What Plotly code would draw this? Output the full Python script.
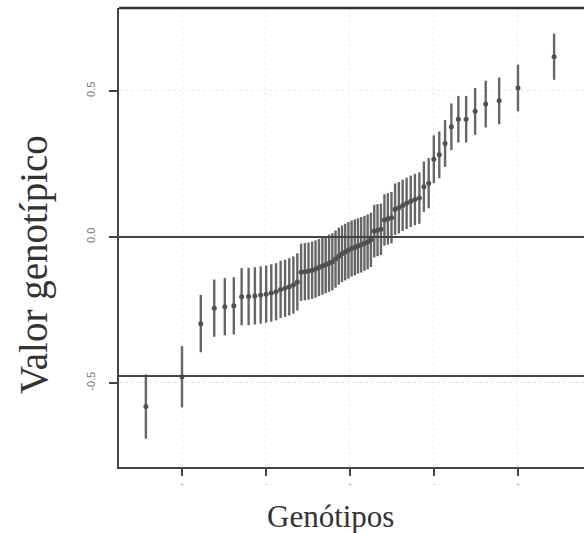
import plotly.graph_objects as go

# Theoretical normal quantiles (x), genotypic values (y), and interval half-widths
quantis = [-2.43, -2.00, -1.776, -1.616, -1.490, -1.383, -1.290, -1.207, -1.132, -1.063,
           -0.998, -0.937, -0.880, -0.826, -0.773, -0.723, -0.674, -0.627, -0.582, -0.537,
           -0.494, -0.451, -0.410, -0.369, -0.328, -0.289, -0.249, -0.210, -0.172, -0.133,
           -0.095, -0.057, -0.019, 0.019, 0.057, 0.095, 0.133, 0.172, 0.210, 0.249,
           0.289, 0.328, 0.369, 0.410, 0.451, 0.494, 0.537, 0.582, 0.627, 0.674,
           0.723, 0.773, 0.826, 0.880, 0.937, 0.998, 1.063, 1.132, 1.207, 1.290,
           1.383, 1.490, 1.616, 1.776, 2.00, 2.43]

valores = [-0.581, -0.479, -0.297, -0.244, -0.239, -0.236, -0.205, -0.204, -0.202, -0.199,
           -0.196, -0.192, -0.188, -0.180, -0.176, -0.171, -0.165, -0.154, -0.121, -0.119,
           -0.117, -0.114, -0.110, -0.105, -0.100, -0.095, -0.090, -0.085, -0.076, -0.066,
           -0.058, -0.052, -0.046, -0.040, -0.036, -0.031, -0.027, -0.022, -0.017, -0.010,
           0.020, 0.023, 0.026, 0.058, 0.062, 0.066, 0.095, 0.100, 0.108, 0.115,
           0.122, 0.128, 0.133, 0.172, 0.184, 0.266, 0.281, 0.320, 0.377, 0.403,
           0.403, 0.430, 0.455, 0.466, 0.510, 0.617]

erros = [0.110, 0.105, 0.098, 0.098, 0.098, 0.098, 0.098, 0.098, 0.098, 0.098,
         0.098, 0.098, 0.098, 0.098, 0.098, 0.098, 0.098, 0.098, 0.098, 0.098,
         0.098, 0.098, 0.098, 0.098, 0.098, 0.098, 0.098, 0.098, 0.098, 0.098,
         0.097, 0.097, 0.097, 0.096, 0.096, 0.095, 0.095, 0.094, 0.094, 0.093,
         0.090, 0.089, 0.088, 0.088, 0.088, 0.088, 0.088, 0.088, 0.088, 0.088,
         0.088, 0.088, 0.088, 0.086, 0.086, 0.082, 0.080, 0.080, 0.080, 0.080,
         0.080, 0.080, 0.080, 0.080, 0.080, 0.079]

x_ticks = [-2, -1, 0, 1, 2]
x_ticklabels = ["-", "·", "-", "·", "-"]
y_ticks = [-0.5, 0.0, 0.5]
y_ticklabels = ["-0.5", "0.0", "0.5"]
ref_lines = [0.0, -0.476]

fig = go.Figure()
fig.add_trace(go.Scatter(
    x=quantis, y=valores, mode="markers",
    marker=dict(size=5, color="#505050", symbol="circle"),
    error_y=dict(type="data", array=erros, visible=True, color="#666666",
                 thickness=2.4, width=0),
    showlegend=False,
))

for v in ref_lines:
    fig.add_shape(type="line", xref="paper", x0=0, x1=1, yref="y", y0=v, y1=v,
                  line=dict(color="#444444", width=2), layer="above")
# top border line
fig.add_shape(type="line", xref="paper", x0=0, x1=1, yref="paper", y0=1, y1=1,
              line=dict(color="#333333", width=2.5), layer="above")

fig.update_layout(
    width=584, height=533,
    margin=dict(l=119, r=0, t=8, b=66),
    paper_bgcolor="white", plot_bgcolor="white",
    font=dict(family="Liberation Serif, Times New Roman, serif", color="#333333"),
    xaxis=dict(range=[-2.75, 2.786], tickvals=x_ticks, ticktext=x_ticklabels,
               ticks="outside", ticklen=7, tickwidth=1.5, tickcolor="#444444",
               tickfont=dict(size=9, color="#888888", family="Liberation Sans"),
               showline=True, linecolor="#444444", linewidth=2,
               showgrid=True, gridcolor="#ececec", griddash="dot", gridwidth=1,
               zeroline=False),
    yaxis=dict(range=[-0.788, 0.784], tickvals=y_ticks, ticktext=y_ticklabels,
               tickangle=-90, ticklabelstandoff=10,
               ticks="outside", ticklen=8, tickwidth=1.5, tickcolor="#444444",
               tickfont=dict(size=11, color="#777777", family="Liberation Sans"),
               showline=True, linecolor="#444444", linewidth=2,
               showgrid=True, gridcolor="#ececec", griddash="dot", gridwidth=1,
               zeroline=False),
)

fig.add_annotation(text="Genótipos", xref="paper", yref="paper", x=0.454, y=-0.107,
                   xanchor="center", yanchor="middle", showarrow=False,
                   font=dict(size=31, color="#333333",
                             family="Liberation Serif, Times New Roman, serif"))
fig.add_annotation(text="Valor genotípico", xref="paper", yref="paper", x=-0.183, y=0.442,
                   xanchor="center", yanchor="middle", textangle=-90, showarrow=False,
                   font=dict(size=39, color="#333333",
                             family="Liberation Serif, Times New Roman, serif"))

fig.write_html("out.html")
